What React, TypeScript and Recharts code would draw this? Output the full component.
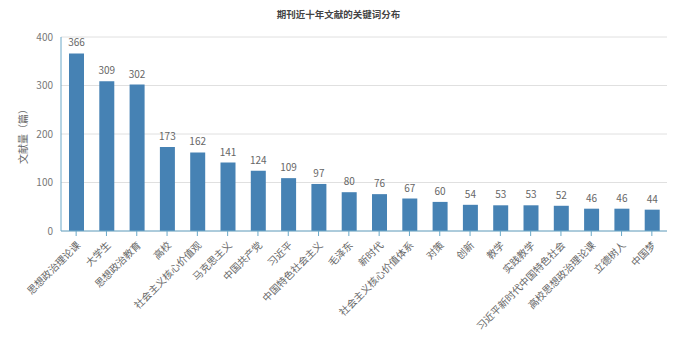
import React from "react";
import { BarChart, Bar, XAxis, YAxis, CartesianGrid, LabelList } from "recharts";

const categories = ["思想政治理论课","大学生","思想政治教育","高校","社会主义核心价值观","马克思主义","中国共产党","习近平","中国特色社会主义","毛泽东","新时代","社会主义核心价值体系","对策","创新","教学","实践教学","习近平新时代中国特色社会","高校思想政治理论课","立德树人","中国梦"];
const counts = [366,309,302,173,162,141,124,109,97,80,76,67,60,54,53,53,52,46,46,44];
const yTicks = [0,100,200,300,400];

const data = categories.map((name, i) => ({ name, value: counts[i] }));

const font = "'Noto Sans CJK SC', 'Noto Sans', sans-serif";

const XTick = (props: any) => {
  const { x, y, payload } = props;
  return (
    <g transform={`translate(${x + 2},${y + 5})`}>
      <text transform="rotate(-45)" textAnchor="end" dy={4} fontSize={10} fill="#666" fontFamily={font}>
        {payload.value}
      </text>
    </g>
  );
};

export default function App() {
  return (
    <div style={{ position: "absolute", left: 0, top: 0, width: 677, height: 338, background: "#fff" }}>
      <div style={{ position: "absolute", left: 0, top: 7, width: 677, textAlign: "center", fontFamily: font, fontSize: 9.5, fontWeight: "bold", color: "#444" }}>
        期刊近十年文献的关键词分布
      </div>
      <div style={{ position: "absolute", left: 22, top: 134, transform: "translate(-50%,-50%) rotate(-90deg)", fontFamily: font, fontSize: 10, color: "#666", whiteSpace: "nowrap" }}>
        文献量（篇）
      </div>
      <BarChart width={677} height={338} data={data} margin={{ top: 37, right: 10, left: 0, bottom: 0 }}>
        <CartesianGrid vertical={false} stroke="#e0e0e0" />
        <XAxis dataKey="name" interval={0} height={107} tick={<XTick />} stroke="#6aa8c8" tickLine={{ stroke: "#6aa8c8" }} tickSize={5} />
        <YAxis width={61} domain={[0, 400]} ticks={yTicks} stroke="#6aa8c8" tickLine={false} tick={{ fontSize: 10, fill: "#777", fontFamily: font }} />
        <Bar dataKey="value" fill="#4682b4" isAnimationActive={false} barSize={15}>
          <LabelList dataKey="value" position="top" offset={7} style={{ fontSize: 10, fill: "#666", fontFamily: font }} />
        </Bar>
      </BarChart>
    </div>
  );
}
